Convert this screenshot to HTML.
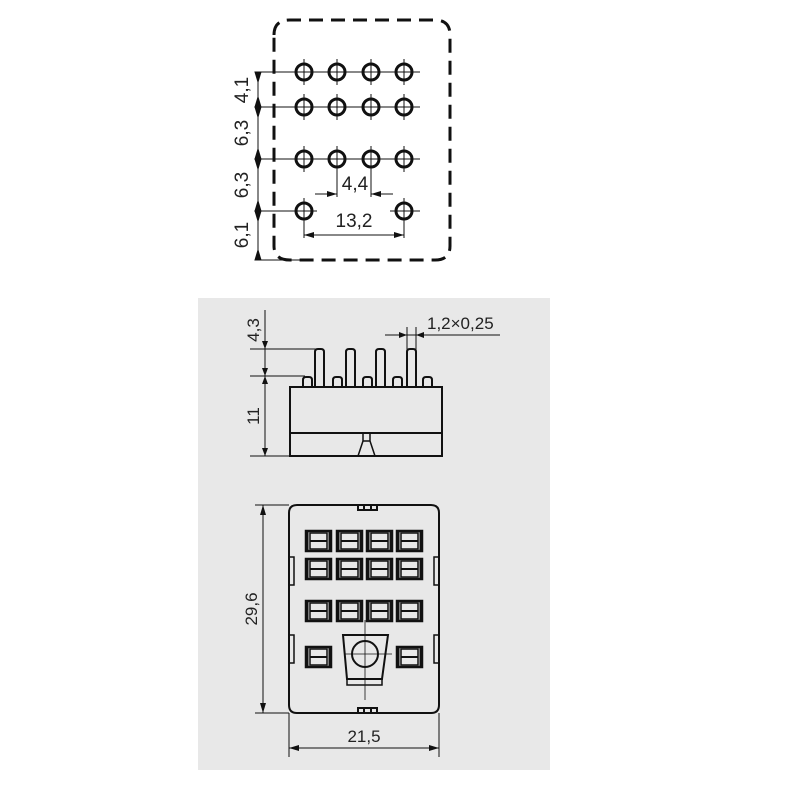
<!DOCTYPE html>
<html><head><style>body{margin:0;background:#fff}svg{display:block}</style></head><body>
<svg width="800" height="800" viewBox="0 0 800 800" xmlns="http://www.w3.org/2000/svg" font-family="Liberation Sans, sans-serif">
<defs>
<marker id="a" viewBox="0 0 10 6" refX="10" refY="3" markerWidth="10" markerHeight="6" orient="auto-start-reverse" markerUnits="userSpaceOnUse"><path d="M0,0L10,3L0,6z" fill="#111"/></marker>
</defs>
<rect x="0" y="0" width="800" height="800" fill="#fff"/>
<path d="M274,35 Q274,20 290,20 L435,20 Q450,20 450,35 L450,246 Q450,260 435,260 L290,260 Q274,260 274,246 Z" fill="none" stroke="#111" stroke-width="3" stroke-dasharray="14,8"/>
<g stroke="#111" stroke-width="1">
<line x1="255" y1="72" x2="420" y2="72"/><line x1="255" y1="107" x2="420" y2="107"/>
<line x1="255" y1="159" x2="420" y2="159"/><line x1="255" y1="211" x2="317" y2="211"/><line x1="390" y1="211" x2="420" y2="211"/>
<line x1="255" y1="260" x2="300" y2="260"/>
<line x1="304" y1="59" x2="304" y2="85"/><line x1="337" y1="59" x2="337" y2="85"/><line x1="371" y1="59" x2="371" y2="85"/><line x1="404" y1="59" x2="404" y2="85"/>
<line x1="304" y1="94" x2="304" y2="120"/><line x1="337" y1="94" x2="337" y2="120"/><line x1="371" y1="94" x2="371" y2="120"/><line x1="404" y1="94" x2="404" y2="120"/>
<line x1="304" y1="146" x2="304" y2="172"/><line x1="337" y1="146" x2="337" y2="197"/><line x1="371" y1="146" x2="371" y2="197"/><line x1="404" y1="146" x2="404" y2="172"/>
<line x1="304" y1="198" x2="304" y2="238"/><line x1="404" y1="198" x2="404" y2="238"/>
<line x1="258" y1="72" x2="258" y2="260"/>
<line x1="315" y1="194" x2="337" y2="194" marker-end="url(#a)"/><line x1="393" y1="194" x2="371" y2="194" marker-end="url(#a)"/>
<line x1="304" y1="235" x2="404" y2="235" marker-start="url(#a)" marker-end="url(#a)"/>
<path d="M258,82L255,72L261,72z M258,97L255,107L261,107z M258,117L255,107L261,107z M258,149L255,159L261,159z M258,169L255,159L261,159z M258,201L255,211L261,211z M258,221L255,211L261,211z M258,250L255,260L261,260z" fill="#111"/>
</g>
<g fill="none" stroke="#111" stroke-width="3">
<circle cx="304" cy="72" r="8"/><circle cx="337" cy="72" r="8"/><circle cx="371" cy="72" r="8"/><circle cx="404" cy="72" r="8"/>
<circle cx="304" cy="107" r="8"/><circle cx="337" cy="107" r="8"/><circle cx="371" cy="107" r="8"/><circle cx="404" cy="107" r="8"/>
<circle cx="304" cy="159" r="8"/><circle cx="337" cy="159" r="8"/><circle cx="371" cy="159" r="8"/><circle cx="404" cy="159" r="8"/>
<circle cx="304" cy="211" r="8"/><circle cx="404" cy="211" r="8"/>
</g>
<g font-size="19" fill="#222">
<text transform="translate(248,90) rotate(-90)" text-anchor="middle">4,1</text>
<text transform="translate(248,133) rotate(-90)" text-anchor="middle">6,3</text>
<text transform="translate(248,185) rotate(-90)" text-anchor="middle">6,3</text>
<text transform="translate(248,235) rotate(-90)" text-anchor="middle">6,1</text>
<text x="355" y="190" text-anchor="middle">4,4</text>
<text x="354" y="227" text-anchor="middle">13,2</text>
</g>
<rect x="198" y="298" width="352" height="472" fill="#e8e8e8"/>
<g stroke="#111" fill="none">
<line x1="265" y1="310" x2="265" y2="456" stroke-width="1"/>
<path d="M265,349L262,341L268,341z M265,376L262,384L268,384z M265,456L262,448L268,448z M265,376L262,368L268,368z" fill="#111" stroke="none"/>
<line x1="250" y1="349" x2="320" y2="349" stroke-width="1"/>
<line x1="250" y1="376" x2="305" y2="376" stroke-width="1"/>
<line x1="250" y1="456" x2="290" y2="456" stroke-width="1"/>
<line x1="385" y1="335" x2="500" y2="335" stroke-width="1"/>
<line x1="407" y1="327" x2="407" y2="350" stroke-width="1"/><line x1="416" y1="327" x2="416" y2="350" stroke-width="1"/>
<path d="M407,335L399,332L399,338z M416,335L424,332L424,338z" fill="#111" stroke="none"/>
<g stroke-width="2" fill="#e8e8e8">
<path d="M303,387V380q0,-3 3,-3h3q3,0 3,3V387"/>
<path d="M333,387V380q0,-3 3,-3h3q3,0 3,3V387"/>
<path d="M363,387V380q0,-3 3,-3h3q3,0 3,3V387"/>
<path d="M393,387V380q0,-3 3,-3h3q3,0 3,3V387"/>
<path d="M423,387V380q0,-3 3,-3h3q3,0 3,3V387"/>
<path d="M315,387V352q0,-3 3,-3h3q3,0 3,3V387"/>
<path d="M346,387V352q0,-3 3,-3h3q3,0 3,3V387"/>
<path d="M376,387V352q0,-3 3,-3h3q3,0 3,3V387"/>
<path d="M407,387V352q0,-3 3,-3h3q3,0 3,3V387"/>
</g>
<rect x="290" y="387" width="152" height="69" stroke-width="2"/>
<line x1="290" y1="433" x2="442" y2="433" stroke-width="2"/>
<path d="M363,433v8M370,433v8M363,441h7M363,441L358,456M370,441L375,456" stroke-width="1.5"/>
<path d="M289,513q0,-8 8,-8H431q8,0 8,8V705q0,8 -8,8H297q-8,0 -8,-8Z" stroke-width="2"/>
<path d="M358,505v5h19v-5M364,510v-4M371,510v-4M358,713v-5h19v5M364,708v4M371,708v4" stroke-width="2"/>
<rect x="289" y="557" width="5" height="28" stroke-width="1.5"/><rect x="289" y="635" width="5" height="28" stroke-width="1.5"/>
<rect x="434" y="557" width="5" height="28" stroke-width="1.5"/><rect x="434" y="635" width="5" height="28" stroke-width="1.5"/>
<line x1="255" y1="505" x2="289" y2="505" stroke-width="1"/><line x1="255" y1="713" x2="289" y2="713" stroke-width="1"/>
<line x1="263" y1="505" x2="263" y2="713" stroke-width="1" marker-start="url(#a)" marker-end="url(#a)"/>
<line x1="289" y1="713" x2="289" y2="757" stroke-width="1"/><line x1="439" y1="713" x2="439" y2="757" stroke-width="1"/>
<line x1="289" y1="748" x2="439" y2="748" stroke-width="1" marker-start="url(#a)" marker-end="url(#a)"/>
<path d="M343,635H388L382,679H347Z" stroke-width="2"/>
<rect x="347" y="679" width="35" height="6" stroke-width="1.5"/>
<circle cx="365" cy="654" r="13" stroke-width="2"/>
<line x1="365" y1="620" x2="365" y2="700" stroke-width="0.8"/><line x1="345" y1="654" x2="392" y2="654" stroke-width="0.8"/>
</g>
<g stroke="#111" fill="none">
<g id="sq"><rect x="306" y="531" width="25" height="20" stroke-width="2.5"/><rect x="310" y="533" width="17" height="16" stroke-width="1.5"/><line x1="310" y1="541" x2="327" y2="541" stroke-width="2"/><line x1="307" y1="531" x2="307" y2="551" stroke-width="3"/><line x1="330" y1="531" x2="330" y2="551" stroke-width="3"/></g>
<use href="#sq" x="31"/><use href="#sq" x="61"/><use href="#sq" x="91"/>
<use href="#sq" y="28"/><use href="#sq" x="31" y="28"/><use href="#sq" x="61" y="28"/><use href="#sq" x="91" y="28"/>
<use href="#sq" y="70"/><use href="#sq" x="31" y="70"/><use href="#sq" x="61" y="70"/><use href="#sq" x="91" y="70"/>
<use href="#sq" y="116"/><use href="#sq" x="91" y="116"/>
</g>
<g font-size="17" fill="#222">
<text transform="translate(259,330) rotate(-90)" text-anchor="middle">4,3</text>
<text transform="translate(259,416) rotate(-90)" text-anchor="middle">11</text>
<text x="427" y="329">1,2×0,25</text>
<text transform="translate(257,609) rotate(-90)" text-anchor="middle">29,6</text>
<text x="364" y="742" text-anchor="middle">21,5</text>
</g>
</svg>
</body></html>
